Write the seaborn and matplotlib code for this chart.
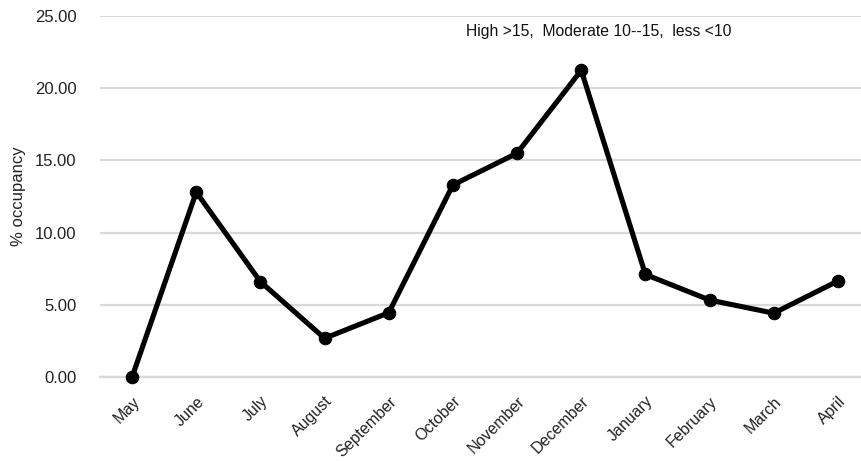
import matplotlib
matplotlib.use("Agg")
import matplotlib.pyplot as plt
import seaborn as sns
import pandas as pd
import numpy as np

months = ["May", "June", "July", "August", "September", "October", "November",
          "December", "January", "February", "March", "April"]
occupancy = [0.0, 12.8, 6.6, 2.68, 4.45, 13.3, 15.5, 21.24, 7.1, 5.33, 4.42, 6.65]
yticks = [0, 5, 10, 15, 20, 25]
note = "High >15,  Moderate 10--15,  less <10"
ylabel = "% occupancy"

sns.set_theme(style="white")
plt.rcParams['font.family'] = ['Liberation Sans Narrow', 'Liberation Sans', 'DejaVu Sans']

df = pd.DataFrame({"month": months, "occ": occupancy})

fig = plt.figure(figsize=(8.61, 4.62), dpi=100)
ax = fig.add_axes([100/861, 85/462, 770/861, 361/462])

sns.lineplot(data=df, x="month", y="occ", sort=False, color="black", lw=3.7,
             marker="o", markersize=9, markeredgecolor="black", ax=ax)
for ln in ax.lines:
    ln.set_clip_on(False)
    ln.set_zorder(5)

ax.set_xlim(-0.5, len(months) - 0.5)
ax.set_ylim(0, 25)
ax.set_yticks(yticks)
ax.set_yticklabels([f"{v:.2f}" for v in yticks], fontsize=12, color="#222222")
ax.set_xticks(range(len(months)))
ax.set_xticklabels(months, rotation=45, ha="right", rotation_mode="anchor",
                   fontsize=11.5, color="#222222")
ax.set_xticks(np.arange(-0.5, len(months), 1.0), minor=True)
ax.tick_params(axis="x", which="major", length=0, pad=12)
ax.tick_params(axis="x", which="minor", length=6, width=1.5, color="#d9d9d9")
ax.tick_params(axis="y", length=0, pad=17)
ax.yaxis.grid(True, color="#d9d9d9", lw=1.6)
ax.set_axisbelow(True)
for s in ["top", "right", "left"]:
    ax.spines[s].set_visible(False)
ax.spines["bottom"].set_color("#d9d9d9")
ax.spines["bottom"].set_linewidth(1.6)
ax.spines["bottom"].set_zorder(1)
ax.set_xlabel("")
ax.set_ylabel(ylabel, fontsize=12, color="#222222")
ax.yaxis.set_label_coords(-74/770, 0.5)
ax.text(5.2, 23.95, note, fontsize=11.3, va="center", ha="left", color="#111111")

fig.savefig("out.png", dpi=100)
